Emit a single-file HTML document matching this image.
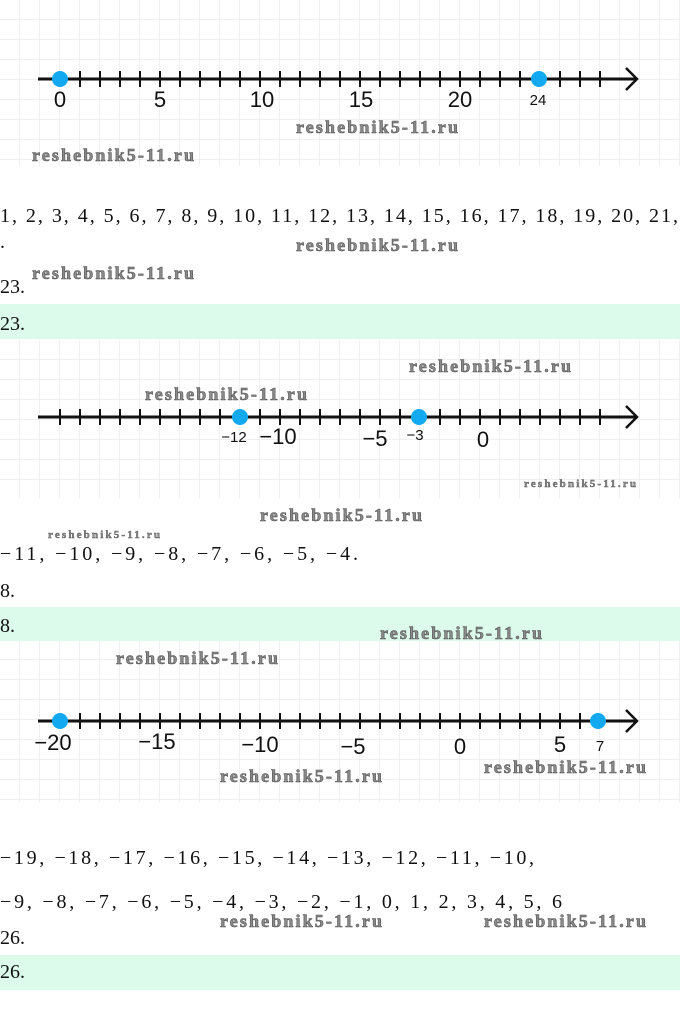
<!DOCTYPE html>
<html><head><meta charset="utf-8"><style>
html,body{margin:0;padding:0;background:#fff;}
svg{display:block;}
.t{font-family:"Liberation Serif",serif;font-size:20px;fill:#111;}
.w{font-family:"Liberation Serif",serif;font-weight:bold;font-size:18px;fill:#8a8a8a;stroke:#555;stroke-width:0.6px;}
.ws{font-family:"Liberation Serif",serif;font-weight:bold;font-size:11px;fill:#8a8a8a;stroke:#555;stroke-width:0.4px;}
.l{font-family:"Liberation Sans",sans-serif;font-size:22px;fill:#111;text-anchor:middle;}
.s{font-family:"Liberation Sans",sans-serif;font-size:15px;fill:#111;text-anchor:middle;}
</style></head><body>
<svg width="680" height="1023" viewBox="0 0 680 1023" xmlns="http://www.w3.org/2000/svg">
<defs>
<pattern id="g" width="20" height="20" patternUnits="userSpaceOnUse">
<path d="M20 0V20M0 20H20" stroke="#e6e6e6" stroke-width="1.2" fill="none"/>
</pattern>
</defs>
<rect x="0" y="0" width="680" height="166" fill="url(#g)"/>
<rect x="0" y="340" width="680" height="158" fill="url(#g)"/>
<rect x="0" y="641" width="680" height="161" fill="url(#g)"/>
<rect x="0" y="304" width="680" height="35" fill="#dcfbea"/>
<rect x="0" y="607" width="680" height="34" fill="#dcfbea"/>
<rect x="0" y="955" width="680" height="35" fill="#dcfbea"/>

<g stroke="#111" stroke-width="3" fill="none">
<line x1="38" y1="79" x2="636" y2="79"/>
<polyline points="626,68 637,79 626,90" stroke-width="2.5"/>
</g>
<g stroke="#111" stroke-width="2">
<path d="M80 71v16M100 71v16M120 71v16M140 71v16M160 71v16M180 71v16M200 71v16M220 71v16M240 71v16M260 71v16M280 71v16M300 71v16M320 71v16M340 71v16M360 71v16M380 71v16M400 71v16M420 71v16M440 71v16M460 71v16M480 71v16M500 71v16M520 71v16M560 71v16M580 71v16M600 71v16"/>
</g>
<circle cx="60" cy="79" r="8" fill="#13a9f0"/>
<circle cx="539" cy="79" r="8" fill="#13a9f0"/>
<text class="l" x="60" y="107">0</text>
<text class="l" x="160" y="107">5</text>
<text class="l" x="262" y="107">10</text>
<text class="l" x="361" y="107">15</text>
<text class="l" x="460" y="107">20</text>
<text class="s" x="538" y="105">24</text>

<g stroke="#111" stroke-width="3" fill="none">
<line x1="38" y1="417" x2="636" y2="417"/>
<polyline points="626,406 637,417 626,428" stroke-width="2.5"/>
</g>
<g stroke="#111" stroke-width="2">
<path d="M60 409v16M80 409v16M100 409v16M120 409v16M140 409v16M160 409v16M180 409v16M200 409v16M220 409v16M260 409v16M280 409v16M300 409v16M320 409v16M340 409v16M360 409v16M380 409v16M400 409v16M440 409v16M460 409v16M480 409v16M500 409v16M520 409v16M540 409v16M560 409v16M580 409v16M600 409v16"/>
</g>
<circle cx="240" cy="417" r="8" fill="#13a9f0"/>
<circle cx="419" cy="417" r="8" fill="#13a9f0"/>
<text class="s" x="234" y="442">−12</text>
<text class="l" x="278" y="444">−10</text>
<text class="l" x="375" y="446">−5</text>
<text class="s" x="415" y="440">−3</text>
<text class="l" x="483" y="447">0</text>

<g stroke="#111" stroke-width="3" fill="none">
<line x1="38" y1="721" x2="636" y2="721"/>
<polyline points="626,710 637,721 626,732" stroke-width="2.5"/>
</g>
<g stroke="#111" stroke-width="2">
<path d="M80 713v16M100 713v16M120 713v16M140 713v16M160 713v16M180 713v16M200 713v16M220 713v16M240 713v16M260 713v16M280 713v16M300 713v16M320 713v16M340 713v16M360 713v16M380 713v16M400 713v16M420 713v16M440 713v16M460 713v16M480 713v16M500 713v16M520 713v16M540 713v16M560 713v16M580 713v16"/>
</g>
<circle cx="60" cy="721" r="8" fill="#13a9f0"/>
<circle cx="598" cy="721" r="8" fill="#13a9f0"/>
<text class="l" x="53" y="750">−20</text>
<text class="l" x="157" y="749">−15</text>
<text class="l" x="260" y="752">−10</text>
<text class="l" x="353" y="754">−5</text>
<text class="l" x="460" y="754">0</text>
<text class="l" x="560" y="752">5</text>
<text class="s" x="600" y="751">7</text>

<text class="t" x="0" y="222" textLength="678" lengthAdjust="spacing">1, 2, 3, 4, 5, 6, 7, 8, 9, 10, 11, 12, 13, 14, 15, 16, 17, 18, 19, 20, 21,</text>
<text class="t" x="0" y="248">.</text>
<text class="t" x="0" y="293">23.</text>
<text class="t" x="0" y="330">23.</text>
<text class="t" x="0" y="560" textLength="358" lengthAdjust="spacing">−11, −10, −9, −8, −7, −6, −5, −4.</text>
<text class="t" x="0" y="597">8.</text>
<text class="t" x="0" y="632">8.</text>
<text class="t" x="0" y="864" textLength="534" lengthAdjust="spacing">−19, −18, −17, −16, −15, −14, −13, −12, −11, −10,</text>
<text class="t" x="0" y="908" textLength="562" lengthAdjust="spacing">−9, −8, −7, −6, −5, −4, −3, −2, −1, 0, 1, 2, 3, 4, 5, 6</text>
<text class="t" x="0" y="944">26.</text>
<text class="t" x="0" y="978">26.</text>

<text class="w" x="296" y="133" textLength="162">reshebnik5-11.ru</text>
<text class="w" x="32" y="161" textLength="162">reshebnik5-11.ru</text>
<text class="w" x="296" y="251" textLength="162">reshebnik5-11.ru</text>
<text class="w" x="32" y="279" textLength="162">reshebnik5-11.ru</text>
<text class="w" x="409" y="372" textLength="162">reshebnik5-11.ru</text>
<text class="w" x="145" y="400" textLength="162">reshebnik5-11.ru</text>
<text class="ws" x="524" y="487" textLength="112">reshebnik5-11.ru</text>
<text class="w" x="260" y="521" textLength="162">reshebnik5-11.ru</text>
<text class="ws" x="48" y="538" textLength="112">reshebnik5-11.ru</text>
<text class="w" x="380" y="639" textLength="162">reshebnik5-11.ru</text>
<text class="w" x="116" y="664" textLength="162">reshebnik5-11.ru</text>
<text class="w" x="484" y="773" textLength="162">reshebnik5-11.ru</text>
<text class="w" x="220" y="782" textLength="162">reshebnik5-11.ru</text>
<text class="w" x="220" y="927" textLength="162">reshebnik5-11.ru</text>
<text class="w" x="484" y="927" textLength="162">reshebnik5-11.ru</text>
</svg>
</body></html>
